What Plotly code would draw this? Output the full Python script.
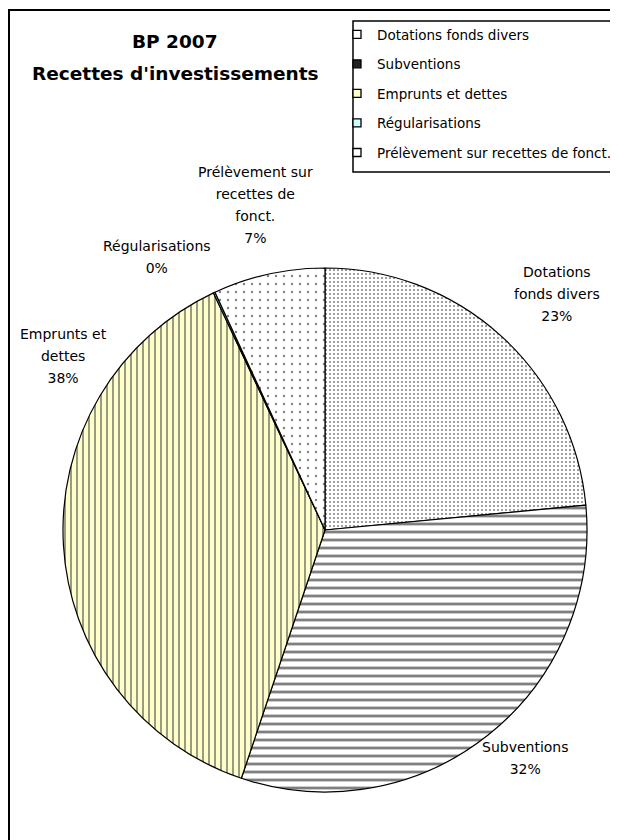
import plotly.graph_objects as go

categories = ["Dotations fonds divers", "Subventions", "Emprunts et dettes",
              "Régularisations", "Prélèvement sur recettes de fonct."]
short_labels = ["Dotations<br>fonds divers", "Subventions", "Emprunts et<br>dettes",
                "Régularisations", "Prélèvement sur<br>recettes de<br>fonct."]
values = [23.5, 31.7, 37.85, 0.1, 6.9]

# styles
bg_colors = ["#FFFFFF", "#FFFFFF", "#FFFFCC", "#CCFFFF", "#FFFFFF"]
legend_colors = ["#FFFFFF", "#222222", "#FFFFCC", "#CCFFFF", "#FFFFFF"]
fg_colors = ["#000000", "#000000", "#333333", "#000000", "#000000"]
shapes_p = [".", "-", "|", "", "."]
sizes = [4, 8, 6, 8, 8]
solid = [0.2, 0.35, 0.33, 0.2, 0.07]
# label block centres (page pixels from top-left)
label_pos = [(557, 294), (525, 758), (63, 356), (157, 257), (255, 205)]

# the page has an 8px body margin, so the figure starts at page pixel (8, 8)
OFF = 8
W, H = 610, 832


def px(x):
    return (x - OFF) / W


def py(y):
    return 1 - (y - OFF) / H


total = sum(values)

fig = go.Figure()
fig.add_trace(go.Pie(
    labels=categories,
    values=values,
    textinfo="none",
    sort=False,
    direction="clockwise",
    rotation=0,
    showlegend=False,
    marker=dict(
        colors=bg_colors,
        line=dict(color="black", width=1.2),
        pattern=dict(shape=shapes_p, bgcolor=bg_colors, fgcolor=fg_colors,
                     size=sizes, solidity=solid, fillmode="overlay"),
    ),
    domain=dict(x=[px(63), px(587)], y=[py(792), py(268)]),
    hoverinfo="label+percent",
))

# legend entries (one per category, separate groups for spacing)
for i, name in enumerate(categories):
    fig.add_trace(go.Scatter(
        x=[None], y=[None], mode="markers", name=name,
        legendgroup=f"g{i}",
        marker=dict(symbol="square", size=8, color=legend_colors[i],
                    line=dict(color="black", width=1.3)),
    ))

annotations = [
    dict(text="<b>BP 2007</b>", x=px(175), y=py(41), xref="paper", yref="paper",
         xanchor="center", yanchor="middle", showarrow=False,
         font=dict(family="DejaVu Sans", size=18.5, color="black")),
    dict(text="<b>Recettes d'investissements</b>", x=px(175), y=py(73),
         xref="paper", yref="paper", xanchor="center", yanchor="middle",
         showarrow=False,
         font=dict(family="DejaVu Sans", size=18.5, color="black")),
]
for lab, v, (lx, ly) in zip(short_labels, values, label_pos):
    pct = round(v / total * 100)
    annotations.append(dict(
        text=f"<span style='font-size:14px'>{lab}<br>{pct}%</span>",
        x=px(lx), y=py(ly), xref="paper", yref="paper",
        xanchor="center", yanchor="middle", showarrow=False, align="center",
        font=dict(family="DejaVu Sans", size=17, color="black"),
    ))

fig.update_layout(
    width=W, height=H,
    margin=dict(l=0, r=0, t=0, b=0),
    paper_bgcolor="white", plot_bgcolor="white",
    xaxis=dict(visible=False), yaxis=dict(visible=False),
    showlegend=True,
    legend=dict(
        x=px(337), y=py(19), xanchor="left", yanchor="top",
        bgcolor="rgba(0,0,0,0)", borderwidth=0,
        font=dict(family="DejaVu Sans", size=13.5, color="black"),
        itemwidth=30, traceorder="grouped", tracegroupgap=9,
    ),
    shapes=[
        dict(type="rect", xref="paper", yref="paper",
             x0=1/W, x1=1.02, y0=-0.02, y1=py(10),
             line=dict(color="black", width=2), layer="below"),
        dict(type="rect", xref="paper", yref="paper",
             x0=px(353), x1=px(615), y0=py(172), y1=py(21),
             line=dict(color="black", width=1.5), fillcolor="white", layer="below"),
    ],
    annotations=annotations,
)

fig.write_html("out.html")
